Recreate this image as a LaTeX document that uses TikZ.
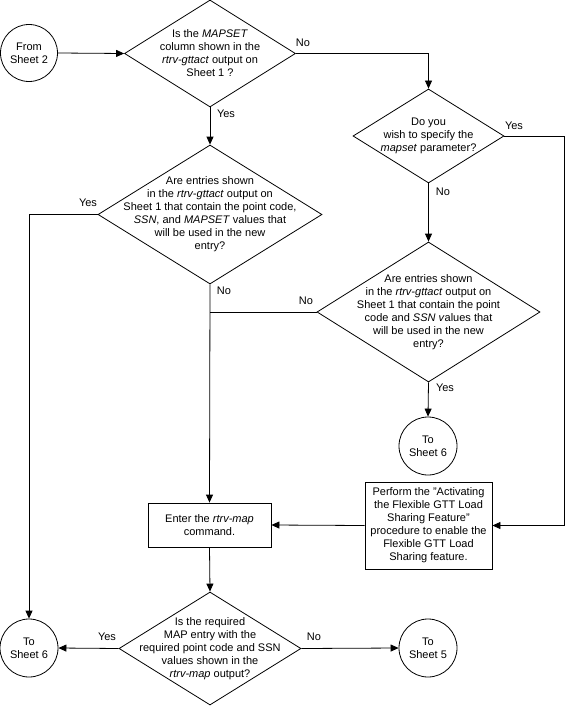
\documentclass[tikz,border=0pt]{standalone}
\usepackage{fontspec}
\setmainfont{Liberation Sans}
\usetikzlibrary{shapes.geometric,arrows.meta}
\begin{document}
\begin{tikzpicture}[x=1pt,y=-1pt,
  every node/.style={font=\fontsize{11}{13}\selectfont},
  line/.style={draw=black, line width=0.8pt},
  arr/.style={line, -{Triangle[length=8pt,width=7pt]}},
  dia/.style={diamond, draw, line width=0.8pt, inner sep=0pt},
  box/.style={rectangle, draw, line width=0.8pt, align=center, inner sep=0pt},
  term/.style={circle, draw, line width=0.8pt, minimum size=57pt, inner sep=0pt, align=center},
  txt/.style={align=center, inner sep=0pt},
  lbl/.style={inner sep=0pt}]
\useasboundingbox (0,0) rectangle (565,706);

\node[term] (F2) at (29,53) {From\\Sheet 2};
\node[dia, minimum width=171pt, minimum height=107pt,
  label={[txt]center:{Is the \textit{MAPSET}\\column shown in the\\\textit{rtrv-gttact} output on\\Sheet 1 ?}}] (D1) at (210,53.5) {};
\node[dia, minimum width=151pt, minimum height=94pt,
  label={[txt]center:{Do you\\wish to specify the\\\textit{mapset} parameter?}}] (D2) at (428.5,136) {};
\node[dia, minimum width=224pt, minimum height=139pt,
  label={[txt]center:{Are entries shown\\in the \textit{rtrv-gttact} output on\\Sheet 1 that contain the point code,\\\textit{SSN}, and \textit{MAPSET} values that\\will be used in the new\\entry?}}] (D3) at (210,214.5) {};
\node[dia, minimum width=223pt, minimum height=140pt,
  label={[txt]center:{Are entries shown\\in the \textit{rtrv-gttact} output on\\Sheet 1 that contain the point\\code and \textit{SSN v}alues that\\will be used in the new\\entry?}}] (D4) at (428.5,312) {};
\node[term, minimum size=58pt] (T6b) at (428,446) {To\\Sheet 6};
\node[box, minimum width=127pt, minimum height=87pt] (P) at (428.5,525.5)
  {Perform the "Activating\\the Flexible GTT Load\\Sharing Feature"\\procedure to enable the\\Flexible GTT Load\\Sharing feature.};
\node[box, minimum width=123pt, minimum height=44pt] (E) at (209.5,525)
  {Enter the \textit{rtrv-map}\\command.};
\node[dia, minimum width=182pt, minimum height=113pt,
  label={[txt]center:{Is the required\\MAP entry with the\\required point code and SSN\\values shown in the\\\textit{rtrv-map} output?}}] (D5) at (210,648.5) {};
\node[term, minimum size=58pt] (T6a) at (29,648) {To\\Sheet 6};
\node[term, minimum size=58pt] (T5) at (428,648) {To\\Sheet 5};

\coordinate (rx) at (564,0);
\coordinate (j) at (D3.south |- D4.west);

\draw[arr] (F2.east) -- (D1.west);
\draw[arr] (D1.east) -| (D2.north);
\draw[arr] (D1.south) -- (D3.north);
\draw[arr] (D2.south) -- (D4.north);
\draw[arr] (D2.east) -| (rx |- P.east) -- (P.east);
\draw[arr] (D3.west) -| (T6a.north);
\draw[arr] (D3.south) -- (E.north);
\draw[line] (D4.west) -- (j);
\draw[arr] (D4.south) -- (T6b.north);
\draw[arr] (P.west) -- (E.east);
\draw[arr] (E.south) -- (D5.north);
\draw[arr] (D5.west) -- (T6a.east);
\draw[arr] (D5.east) -- (T5.west);

\node[lbl] at (303,43) {No};
\node[lbl] at (226,114) {Yes};
\node[lbl] at (514,126) {Yes};
\node[lbl] at (443,192) {No};
\node[lbl] at (88,203) {Yes};
\node[lbl] at (224,291) {No};
\node[lbl] at (306,301) {No};
\node[lbl] at (445,388) {Yes};
\node[lbl] at (107,637) {Yes};
\node[lbl] at (314,637) {No};
\end{tikzpicture}
\end{document}
